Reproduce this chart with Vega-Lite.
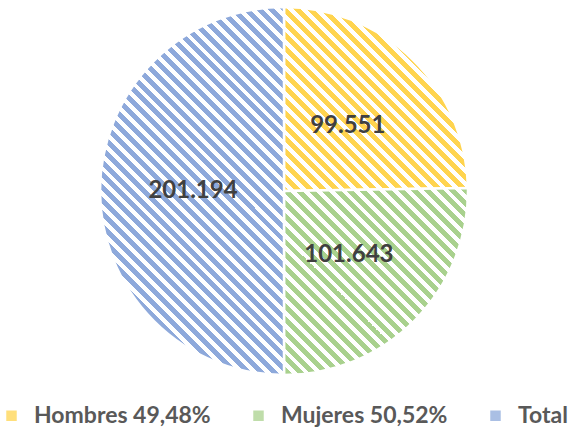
{
  "$schema": "https://vega.github.io/schema/vega-lite/v6.json",
  "width": 568,
  "height": 382,
  "padding": {"left": 0, "top": 0, "right": 2, "bottom": 0},
  "background": "white",
  "config": {
    "view": {"stroke": null},
    "locale": {"number": {"decimal": ",", "thousands": ".", "grouping": [3], "currency": ["", " €"]}}
  },
  "datasets": {
    "pie": [
      {"cat": "Hombres 49,48%", "v": 99551},
      {"cat": "Mujeres 50,52%", "v": 101643},
      {"cat": "Total", "v": 201194}
    ],
    "disc": [{"v": 1}]
  },
  "resolve": {"scale": {"theta": "independent"}},
  "layer": [
    {
      "data": {"name": "pie"},
      "mark": {"type": "arc", "outerRadius": 184, "stroke": "#ffffff", "strokeWidth": 2.5},
      "encoding": {
        "theta": {"field": "v", "type": "quantitative", "stack": true},
        "color": {
          "field": "cat",
          "type": "nominal",
          "scale": {"domain": ["Hombres 49,48%", "Mujeres 50,52%", "Total"], "range": ["#FFD44F", "#A9D18E", "#8EA9DB"]},
          "legend": {
            "title": null,
            "orient": "bottom",
            "direction": "horizontal",
            "offset": 22,
            "symbolType": "square",
            "symbolSize": 110,
            "symbolStrokeWidth": 0,
            "symbolOpacity": 0.75,
            "labelFont": "Lato",
            "labelFontWeight": "bold",
            "labelFontSize": 23,
            "labelColor": "#595959",
            "labelOffset": 11,
            "columnPadding": 36,
            "labelLimit": 300
          }
        }
      }
    },
    {
      "data": {"name": "disc"},
      "mark": {
        "type": "arc",
        "outerRadius": 184,
        "fill": {
          "gradient": "linear", "x1": 0, "y1": 1, "x2": 1, "y2": 0,
          "stops": [
            {"offset": 0, "color": "#fff"}, {"offset": 0.008, "color": "#fff"}, {"offset": 0.008, "color": "rgba(255,255,255,0)"}, {"offset": 0.0175, "color": "rgba(255,255,255,0)"},
            {"offset": 0.0175, "color": "#fff"}, {"offset": 0.0255, "color": "#fff"}, {"offset": 0.0255, "color": "rgba(255,255,255,0)"}, {"offset": 0.035, "color": "rgba(255,255,255,0)"},
            {"offset": 0.035, "color": "#fff"}, {"offset": 0.043, "color": "#fff"}, {"offset": 0.043, "color": "rgba(255,255,255,0)"}, {"offset": 0.0525, "color": "rgba(255,255,255,0)"},
            {"offset": 0.0525, "color": "#fff"}, {"offset": 0.0605, "color": "#fff"}, {"offset": 0.0605, "color": "rgba(255,255,255,0)"}, {"offset": 0.07, "color": "rgba(255,255,255,0)"},
            {"offset": 0.07, "color": "#fff"}, {"offset": 0.078, "color": "#fff"}, {"offset": 0.078, "color": "rgba(255,255,255,0)"}, {"offset": 0.0875, "color": "rgba(255,255,255,0)"},
            {"offset": 0.0875, "color": "#fff"}, {"offset": 0.0955, "color": "#fff"}, {"offset": 0.0955, "color": "rgba(255,255,255,0)"}, {"offset": 0.105, "color": "rgba(255,255,255,0)"},
            {"offset": 0.105, "color": "#fff"}, {"offset": 0.113, "color": "#fff"}, {"offset": 0.113, "color": "rgba(255,255,255,0)"}, {"offset": 0.1225, "color": "rgba(255,255,255,0)"},
            {"offset": 0.1225, "color": "#fff"}, {"offset": 0.1305, "color": "#fff"}, {"offset": 0.1305, "color": "rgba(255,255,255,0)"}, {"offset": 0.14, "color": "rgba(255,255,255,0)"},
            {"offset": 0.14, "color": "#fff"}, {"offset": 0.148, "color": "#fff"}, {"offset": 0.148, "color": "rgba(255,255,255,0)"}, {"offset": 0.1575, "color": "rgba(255,255,255,0)"},
            {"offset": 0.1575, "color": "#fff"}, {"offset": 0.1655, "color": "#fff"}, {"offset": 0.1655, "color": "rgba(255,255,255,0)"}, {"offset": 0.175, "color": "rgba(255,255,255,0)"},
            {"offset": 0.175, "color": "#fff"}, {"offset": 0.183, "color": "#fff"}, {"offset": 0.183, "color": "rgba(255,255,255,0)"}, {"offset": 0.1925, "color": "rgba(255,255,255,0)"},
            {"offset": 0.1925, "color": "#fff"}, {"offset": 0.2005, "color": "#fff"}, {"offset": 0.2005, "color": "rgba(255,255,255,0)"}, {"offset": 0.21, "color": "rgba(255,255,255,0)"},
            {"offset": 0.21, "color": "#fff"}, {"offset": 0.218, "color": "#fff"}, {"offset": 0.218, "color": "rgba(255,255,255,0)"}, {"offset": 0.2275, "color": "rgba(255,255,255,0)"},
            {"offset": 0.2275, "color": "#fff"}, {"offset": 0.2355, "color": "#fff"}, {"offset": 0.2355, "color": "rgba(255,255,255,0)"}, {"offset": 0.245, "color": "rgba(255,255,255,0)"},
            {"offset": 0.245, "color": "#fff"}, {"offset": 0.253, "color": "#fff"}, {"offset": 0.253, "color": "rgba(255,255,255,0)"}, {"offset": 0.2625, "color": "rgba(255,255,255,0)"},
            {"offset": 0.2625, "color": "#fff"}, {"offset": 0.2705, "color": "#fff"}, {"offset": 0.2705, "color": "rgba(255,255,255,0)"}, {"offset": 0.28, "color": "rgba(255,255,255,0)"},
            {"offset": 0.28, "color": "#fff"}, {"offset": 0.288, "color": "#fff"}, {"offset": 0.288, "color": "rgba(255,255,255,0)"}, {"offset": 0.2975, "color": "rgba(255,255,255,0)"},
            {"offset": 0.2975, "color": "#fff"}, {"offset": 0.3055, "color": "#fff"}, {"offset": 0.3055, "color": "rgba(255,255,255,0)"}, {"offset": 0.315, "color": "rgba(255,255,255,0)"},
            {"offset": 0.315, "color": "#fff"}, {"offset": 0.323, "color": "#fff"}, {"offset": 0.323, "color": "rgba(255,255,255,0)"}, {"offset": 0.3325, "color": "rgba(255,255,255,0)"},
            {"offset": 0.3325, "color": "#fff"}, {"offset": 0.3405, "color": "#fff"}, {"offset": 0.3405, "color": "rgba(255,255,255,0)"}, {"offset": 0.35, "color": "rgba(255,255,255,0)"},
            {"offset": 0.35, "color": "#fff"}, {"offset": 0.358, "color": "#fff"}, {"offset": 0.358, "color": "rgba(255,255,255,0)"}, {"offset": 0.3675, "color": "rgba(255,255,255,0)"},
            {"offset": 0.3675, "color": "#fff"}, {"offset": 0.3755, "color": "#fff"}, {"offset": 0.3755, "color": "rgba(255,255,255,0)"}, {"offset": 0.385, "color": "rgba(255,255,255,0)"},
            {"offset": 0.385, "color": "#fff"}, {"offset": 0.393, "color": "#fff"}, {"offset": 0.393, "color": "rgba(255,255,255,0)"}, {"offset": 0.4025, "color": "rgba(255,255,255,0)"},
            {"offset": 0.4025, "color": "#fff"}, {"offset": 0.4105, "color": "#fff"}, {"offset": 0.4105, "color": "rgba(255,255,255,0)"}, {"offset": 0.42, "color": "rgba(255,255,255,0)"},
            {"offset": 0.42, "color": "#fff"}, {"offset": 0.428, "color": "#fff"}, {"offset": 0.428, "color": "rgba(255,255,255,0)"}, {"offset": 0.4375, "color": "rgba(255,255,255,0)"},
            {"offset": 0.4375, "color": "#fff"}, {"offset": 0.4455, "color": "#fff"}, {"offset": 0.4455, "color": "rgba(255,255,255,0)"}, {"offset": 0.455, "color": "rgba(255,255,255,0)"},
            {"offset": 0.455, "color": "#fff"}, {"offset": 0.463, "color": "#fff"}, {"offset": 0.463, "color": "rgba(255,255,255,0)"}, {"offset": 0.4725, "color": "rgba(255,255,255,0)"},
            {"offset": 0.4725, "color": "#fff"}, {"offset": 0.4805, "color": "#fff"}, {"offset": 0.4805, "color": "rgba(255,255,255,0)"}, {"offset": 0.49, "color": "rgba(255,255,255,0)"},
            {"offset": 0.49, "color": "#fff"}, {"offset": 0.498, "color": "#fff"}, {"offset": 0.498, "color": "rgba(255,255,255,0)"}, {"offset": 0.5075, "color": "rgba(255,255,255,0)"},
            {"offset": 0.5075, "color": "#fff"}, {"offset": 0.5155, "color": "#fff"}, {"offset": 0.5155, "color": "rgba(255,255,255,0)"}, {"offset": 0.525, "color": "rgba(255,255,255,0)"},
            {"offset": 0.525, "color": "#fff"}, {"offset": 0.533, "color": "#fff"}, {"offset": 0.533, "color": "rgba(255,255,255,0)"}, {"offset": 0.5425, "color": "rgba(255,255,255,0)"},
            {"offset": 0.5425, "color": "#fff"}, {"offset": 0.5505, "color": "#fff"}, {"offset": 0.5505, "color": "rgba(255,255,255,0)"}, {"offset": 0.56, "color": "rgba(255,255,255,0)"},
            {"offset": 0.56, "color": "#fff"}, {"offset": 0.568, "color": "#fff"}, {"offset": 0.568, "color": "rgba(255,255,255,0)"}, {"offset": 0.5775, "color": "rgba(255,255,255,0)"},
            {"offset": 0.5775, "color": "#fff"}, {"offset": 0.5855, "color": "#fff"}, {"offset": 0.5855, "color": "rgba(255,255,255,0)"}, {"offset": 0.595, "color": "rgba(255,255,255,0)"},
            {"offset": 0.595, "color": "#fff"}, {"offset": 0.603, "color": "#fff"}, {"offset": 0.603, "color": "rgba(255,255,255,0)"}, {"offset": 0.6125, "color": "rgba(255,255,255,0)"},
            {"offset": 0.6125, "color": "#fff"}, {"offset": 0.6205, "color": "#fff"}, {"offset": 0.6205, "color": "rgba(255,255,255,0)"}, {"offset": 0.63, "color": "rgba(255,255,255,0)"},
            {"offset": 0.63, "color": "#fff"}, {"offset": 0.638, "color": "#fff"}, {"offset": 0.638, "color": "rgba(255,255,255,0)"}, {"offset": 0.6475, "color": "rgba(255,255,255,0)"},
            {"offset": 0.6475, "color": "#fff"}, {"offset": 0.6555, "color": "#fff"}, {"offset": 0.6555, "color": "rgba(255,255,255,0)"}, {"offset": 0.665, "color": "rgba(255,255,255,0)"},
            {"offset": 0.665, "color": "#fff"}, {"offset": 0.673, "color": "#fff"}, {"offset": 0.673, "color": "rgba(255,255,255,0)"}, {"offset": 0.6825, "color": "rgba(255,255,255,0)"},
            {"offset": 0.6825, "color": "#fff"}, {"offset": 0.6905, "color": "#fff"}, {"offset": 0.6905, "color": "rgba(255,255,255,0)"}, {"offset": 0.7, "color": "rgba(255,255,255,0)"},
            {"offset": 0.7, "color": "#fff"}, {"offset": 0.708, "color": "#fff"}, {"offset": 0.708, "color": "rgba(255,255,255,0)"}, {"offset": 0.7175, "color": "rgba(255,255,255,0)"},
            {"offset": 0.7175, "color": "#fff"}, {"offset": 0.7255, "color": "#fff"}, {"offset": 0.7255, "color": "rgba(255,255,255,0)"}, {"offset": 0.735, "color": "rgba(255,255,255,0)"},
            {"offset": 0.735, "color": "#fff"}, {"offset": 0.743, "color": "#fff"}, {"offset": 0.743, "color": "rgba(255,255,255,0)"}, {"offset": 0.7525, "color": "rgba(255,255,255,0)"},
            {"offset": 0.7525, "color": "#fff"}, {"offset": 0.7605, "color": "#fff"}, {"offset": 0.7605, "color": "rgba(255,255,255,0)"}, {"offset": 0.77, "color": "rgba(255,255,255,0)"},
            {"offset": 0.77, "color": "#fff"}, {"offset": 0.778, "color": "#fff"}, {"offset": 0.778, "color": "rgba(255,255,255,0)"}, {"offset": 0.7875, "color": "rgba(255,255,255,0)"},
            {"offset": 0.7875, "color": "#fff"}, {"offset": 0.7955, "color": "#fff"}, {"offset": 0.7955, "color": "rgba(255,255,255,0)"}, {"offset": 0.805, "color": "rgba(255,255,255,0)"},
            {"offset": 0.805, "color": "#fff"}, {"offset": 0.813, "color": "#fff"}, {"offset": 0.813, "color": "rgba(255,255,255,0)"}, {"offset": 0.8225, "color": "rgba(255,255,255,0)"},
            {"offset": 0.8225, "color": "#fff"}, {"offset": 0.8305, "color": "#fff"}, {"offset": 0.8305, "color": "rgba(255,255,255,0)"}, {"offset": 0.84, "color": "rgba(255,255,255,0)"},
            {"offset": 0.84, "color": "#fff"}, {"offset": 0.848, "color": "#fff"}, {"offset": 0.848, "color": "rgba(255,255,255,0)"}, {"offset": 0.8575, "color": "rgba(255,255,255,0)"},
            {"offset": 0.8575, "color": "#fff"}, {"offset": 0.8655, "color": "#fff"}, {"offset": 0.8655, "color": "rgba(255,255,255,0)"}, {"offset": 0.875, "color": "rgba(255,255,255,0)"},
            {"offset": 0.875, "color": "#fff"}, {"offset": 0.883, "color": "#fff"}, {"offset": 0.883, "color": "rgba(255,255,255,0)"}, {"offset": 0.8925, "color": "rgba(255,255,255,0)"},
            {"offset": 0.8925, "color": "#fff"}, {"offset": 0.9005, "color": "#fff"}, {"offset": 0.9005, "color": "rgba(255,255,255,0)"}, {"offset": 0.91, "color": "rgba(255,255,255,0)"},
            {"offset": 0.91, "color": "#fff"}, {"offset": 0.918, "color": "#fff"}, {"offset": 0.918, "color": "rgba(255,255,255,0)"}, {"offset": 0.9275, "color": "rgba(255,255,255,0)"},
            {"offset": 0.9275, "color": "#fff"}, {"offset": 0.9355, "color": "#fff"}, {"offset": 0.9355, "color": "rgba(255,255,255,0)"}, {"offset": 0.945, "color": "rgba(255,255,255,0)"},
            {"offset": 0.945, "color": "#fff"}, {"offset": 0.953, "color": "#fff"}, {"offset": 0.953, "color": "rgba(255,255,255,0)"}, {"offset": 0.9625, "color": "rgba(255,255,255,0)"},
            {"offset": 0.9625, "color": "#fff"}, {"offset": 0.9705, "color": "#fff"}, {"offset": 0.9705, "color": "rgba(255,255,255,0)"}, {"offset": 0.98, "color": "rgba(255,255,255,0)"},
            {"offset": 0.98, "color": "#fff"}, {"offset": 0.988, "color": "#fff"}, {"offset": 0.988, "color": "rgba(255,255,255,0)"}, {"offset": 0.9975, "color": "rgba(255,255,255,0)"},
            {"offset": 0.9975, "color": "#fff"}, {"offset": 1, "color": "#fff"}
          ]
        }
      },
      "encoding": {"theta": {"field": "v", "type": "quantitative"}}
    },
    {
      "data": {"name": "pie"},
      "mark": {"type": "text", "radius": 91, "font": "Lato", "fontWeight": "bold", "fontSize": 24, "fill": "#404040"},
      "encoding": {
        "theta": {"field": "v", "type": "quantitative", "stack": true},
        "detail": {"field": "cat", "type": "nominal"},
        "text": {"field": "v", "type": "quantitative", "format": ",d"}
      }
    }
  ]
}
